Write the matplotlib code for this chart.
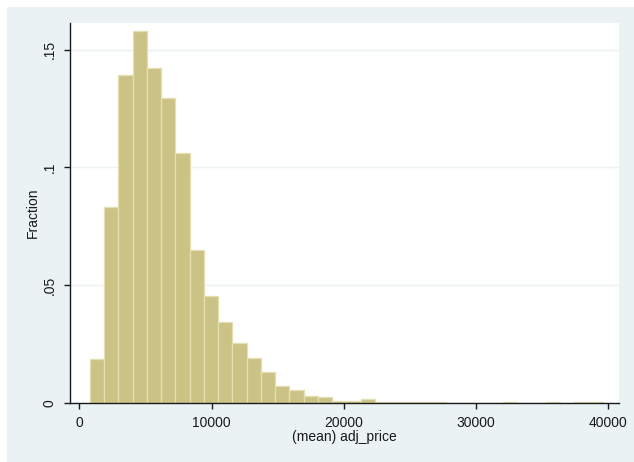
import numpy as np
import matplotlib.pyplot as plt
from matplotlib.patches import Rectangle

plt.rcParams['font.family'] = ['Liberation Sans', 'DejaVu Sans']

# Histogram of (mean) adj_price, 36 equal bins
bin_start = 809
bin_width = 1077
fractions = [0.0188, 0.0831, 0.1392, 0.1578, 0.1420, 0.1293, 0.1061, 0.0650,
             0.0454, 0.0345, 0.0252, 0.0192, 0.0129, 0.0073, 0.0053, 0.0030,
             0.0025, 0.0007, 0.0007, 0.0016, 0.0002, 0.0002, 0.0002, 0.0002,
             0.0002, 0.0, 0.0, 0.0, 0.0, 0.0002, 0.0, 0.0, 0.0002, 0.0,
             0.0002, 0.0002]
x_ticks = [0, 10000, 20000, 30000, 40000]
y_ticks = [0, 0.05, 0.1, 0.15]
y_tick_labels = ['0', '.05', '.1', '.15']

edges = bin_start + bin_width * np.arange(len(fractions) + 1)

bg = '#EAF2F3'
fig = plt.figure(figsize=(6.34, 4.62), dpi=100, facecolor='white')
fig.patches.append(Rectangle((7 / 634, 0), 1, 1 - 7 / 462, transform=fig.transFigure,
                             facecolor=bg, edgecolor='none', zorder=-1))
ax = fig.add_axes([70 / 634, 59 / 462, 549 / 634, 380 / 462])
ax.set_facecolor('white')

ax.bar(edges[:-1], fractions, width=bin_width, align='edge',
       color='#CBC385', edgecolor='#E4DEB0', linewidth=0.9, zorder=2)

ax.set_xlim(-703, 40809)
ax.set_ylim(-0.0001, 0.1613)
ax.set_xticks(x_ticks)
ax.set_xticklabels([str(t) for t in x_ticks])
ax.set_yticks(y_ticks)
ax.set_yticklabels(y_tick_labels, rotation=90, va='center')
ax.yaxis.grid(True, color=bg, linewidth=1.0, zorder=0)
ax.set_axisbelow(True)

for s in ['top', 'right']:
    ax.spines[s].set_visible(False)
for s in ['left', 'bottom']:
    ax.spines[s].set_linewidth(1.0)
    ax.spines[s].set_color('#1a1a1a')
ax.tick_params(axis='both', length=4.5, width=1.0, color='#1a1a1a', labelsize=10,
               labelcolor='#1a1a1a', pad=5)

ax.set_xlabel('(mean) adj_price', fontsize=10, color='#1a1a1a', labelpad=0)
ax.set_ylabel('Fraction', fontsize=10, color='#1a1a1a', labelpad=2)

fig.savefig('out.png', dpi=100, facecolor=fig.get_facecolor())
